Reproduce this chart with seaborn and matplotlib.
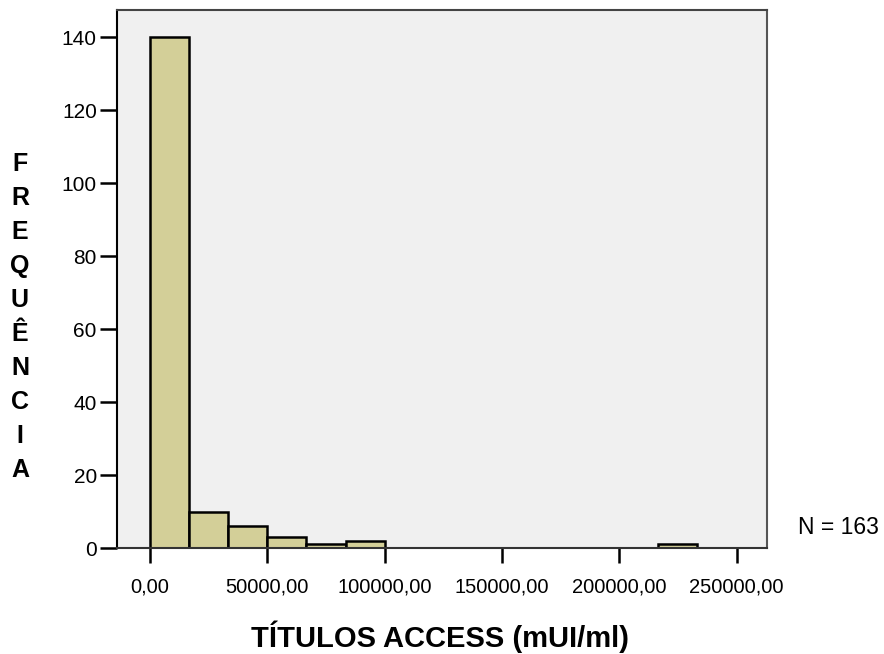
import numpy as np
import pandas as pd
import matplotlib
matplotlib.use("Agg")
import matplotlib.pyplot as plt
import seaborn as sns

# Data (bin width = 250000/15)
bin_width = 250000 / 15
bin_counts = [140, 10, 6, 3, 1, 2, 0, 0, 0, 0, 0, 0, 0, 1]
x_ticks = [0, 50000, 100000, 150000, 200000, 250000]
x_tick_labels = ["0,00", "50000,00", "100000,00", "150000,00", "200000,00", "250000,00"]
y_ticks = [0, 20, 40, 60, 80, 100, 120, 140]
n_total = 163

edges = [i * bin_width for i in range(len(bin_counts) + 1)]
centers = [(edges[i] + edges[i + 1]) / 2 for i in range(len(bin_counts))]
df = pd.DataFrame({"value": centers, "count": bin_counts})

sns.set_theme(style="white")
plt.rcParams["font.family"] = ["Liberation Sans", "DejaVu Sans"]
plt.rcParams["text.color"] = "black"
plt.rcParams["xtick.color"] = "black"
plt.rcParams["ytick.color"] = "black"
plt.rcParams["xtick.labelcolor"] = "black"
plt.rcParams["ytick.labelcolor"] = "black"

fig = plt.figure(figsize=(8.84, 6.54), dpi=100)
ax = fig.add_axes([117 / 884, 1 - 548 / 654, 650 / 884, 538 / 654])
ax.set_facecolor("#F0F0F0")

sns.histplot(data=df, x="value", weights="count", bins=edges, ax=ax,
             color="#D3CF98", edgecolor="black", linewidth=1.8, alpha=1.0)

ax.set_xlim(-14070, 263000)
ax.set_ylim(0, 147.4)
ax.set_xticks(x_ticks)
ax.set_xticklabels(x_tick_labels)
ax.set_yticks(y_ticks)
ax.tick_params(axis="x", direction="out", length=11, width=1.8, colors="black",
               labelsize=14.5, pad=10, bottom=True)
ax.tick_params(axis="y", direction="out", length=12.5, width=1.8, colors="black",
               labelsize=15, pad=2, left=True)
ax.set_xlabel("")
ax.set_ylabel("")

for side, col in [("left", "black"), ("bottom", "#333333"), ("top", "#444444"), ("right", "#555555")]:
    ax.spines[side].set_visible(True)
    ax.spines[side].set_color(col)
    ax.spines[side].set_linewidth(1.5)

fig.text(440 / 884, 1 - 647 / 654, "TÍTULOS ACCESS (mUI/ml)", ha="center", va="baseline",
         fontsize=21, fontweight="bold", color="black")

fig.text(20 / 884, 1 - 317 / 654, "\n".join("FREQUÊNCIA"), ha="center", va="center",
         fontsize=18, fontweight="bold", linespacing=1.53, color="black")

fig.text(798 / 884, 1 - 528 / 654, f"N = {n_total}", ha="left", va="center",
         fontsize=16.5, color="black")

fig.savefig("out.png", dpi=100)
